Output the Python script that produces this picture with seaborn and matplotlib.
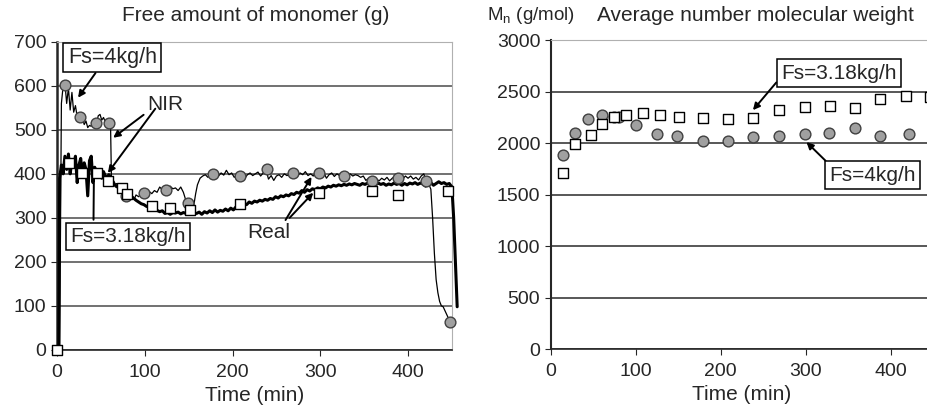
import numpy as np
import seaborn as sns
from matplotlib import pyplot as plt

# ---- data ----
# left panel: NIR signal, Fs = 4 kg/h (thin line)
nir4_t = [0, 3, 5, 7, 9, 11, 13, 15, 17, 19, 21, 23, 25, 27, 29, 31, 33, 35, 37, 39,
          41, 43, 45, 47, 49, 51, 53, 55, 57, 59, 61, 62, 64, 66, 68, 70, 72, 74, 76, 78,
          80, 83, 86, 88, 90, 93, 96, 99, 102, 105, 108, 111, 114, 117, 120, 123, 126, 129, 132, 135,
          138, 141, 144, 146, 148, 150, 152, 154, 156, 158, 160, 163, 166, 169, 172, 175, 178, 181, 184, 187,
          190, 193, 196, 199, 202, 205, 208, 211, 214, 217, 220, 223, 226, 229, 232, 235, 238, 241, 244, 247,
          250, 253, 256, 259, 262, 265, 268, 271, 274, 277, 280, 283, 286, 289, 292, 295, 298, 301, 304, 307,
          310, 313, 316, 319, 322, 325, 328, 331, 334, 337, 340, 343, 346, 349, 352, 355, 358, 361, 364, 367,
          370, 373, 376, 379, 382, 385, 388, 391, 394, 397, 400, 403, 406, 409, 412, 415, 418, 420, 422, 424,
          426, 428, 430, 432, 434, 436, 438, 440, 443, 446, 448]
nir4_v = [0, 5, 560, 600, 607, 560, 595, 545, 585, 540, 555, 530, 530, 520, 525, 512, 520, 505, 510, 508,
          520, 525, 515, 532, 535, 522, 528, 518, 520, 515, 512, 390, 385, 375, 378, 370, 372, 362, 358, 352,
          350, 345, 348, 342, 352, 348, 355, 358, 352, 360, 355, 362, 358, 370, 364, 366, 360, 372, 366, 368,
          362, 370, 358, 345, 330, 322, 320, 318, 330, 355, 375, 390, 395, 398, 392, 400, 398, 405, 395, 402,
          397, 408, 398, 402, 392, 398, 395, 400, 390, 398, 402, 396, 400, 404, 395, 402, 410, 388, 396, 385,
          395, 398, 392, 400, 396, 398, 403, 400, 395, 402, 398, 405, 396, 400, 395, 402, 400, 396, 403, 390,
          398, 402, 394, 400, 396, 392, 398, 396, 400, 395, 398, 396, 392, 395, 385, 390, 386, 382, 388, 384,
          390, 386, 392, 384, 390, 395, 387, 392, 388, 395, 390, 395, 388, 392, 386, 395, 400, 385, 380, 375,
          365, 300, 220, 160, 130, 110, 100, 98, 85, 72, 64]

# left panel: NIR signal, Fs = 3.18 kg/h (thick line)
nir318_t = [0, 2, 3, 5, 7, 9, 11, 13, 15, 17, 19, 21, 23, 25, 27, 29, 31, 33, 35, 37,
            39, 41, 43, 45, 47, 49, 51, 53, 55, 57, 59, 61, 63, 65, 67, 69, 71, 73, 75, 78,
            81, 84, 87, 90, 93, 96, 99, 102, 105, 108, 111, 114, 117, 120, 123, 126, 129, 132, 135, 138,
            141, 144, 147, 150, 153, 156, 159, 162, 165, 168, 171, 174, 177, 180, 183, 186, 189, 192, 195, 198,
            201, 204, 207, 210, 213, 216, 219, 222, 225, 228, 231, 234, 237, 240, 243, 246, 249, 252, 255, 258,
            261, 264, 267, 270, 273, 276, 279, 282, 285, 288, 291, 294, 297, 300, 303, 306, 309, 312, 315, 318,
            321, 324, 327, 330, 333, 336, 339, 342, 345, 348, 351, 354, 357, 360, 363, 366, 369, 372, 375, 378,
            381, 384, 387, 390, 393, 396, 399, 402, 405, 408, 411, 414, 417, 420, 423, 426, 429, 432, 435, 438,
            441, 444, 447, 450, 452, 454, 456]
nir318_v = [0, 5, 390, 420, 400, 440, 410, 445, 400, 430, 415, 440, 380, 420, 435, 395, 425, 410, 350, 430,
            440, 380, 415, 395, 400, 410, 390, 405, 395, 390, 398, 392, 385, 378, 372, 370, 366, 368, 362, 358,
            352, 350, 345, 340, 336, 332, 330, 326, 325, 320, 318, 317, 314, 316, 310, 312, 308, 312, 311, 313,
            309, 312, 310, 312, 308, 311, 310, 313, 308, 314, 311, 316, 312, 318, 313, 317, 315, 320, 316, 322,
            318, 325, 328, 325, 332, 330, 336, 333, 338, 336, 340, 338, 342, 340, 344, 342, 348, 345, 350, 348,
            352, 350, 355, 353, 358, 356, 362, 358, 364, 361, 366, 364, 368, 366, 370, 368, 372, 370, 374, 372,
            375, 373, 376, 374, 377, 375, 378, 376, 374, 378, 376, 379, 374, 377, 375, 379, 376, 378, 374, 377,
            375, 379, 376, 378, 374, 378, 375, 379, 377, 380, 376, 379, 377, 372, 378, 380, 374, 378, 382, 378,
            380, 376, 378, 370, 300, 200, 98]

# left panel: real (offline) samples
real4_t = [9, 26, 44, 59, 79, 99, 124, 149, 178, 209, 239, 269, 299, 327, 359, 388, 421, 448]
real4_v = [602, 529, 516, 516, 350, 357, 364, 334, 400, 395, 411, 402, 402, 395, 384, 391, 384, 64]
real318_t = [0, 14, 28, 45, 58, 74, 80, 108, 129, 151, 209, 299, 359, 388, 446]
real318_v = [0, 424, 402, 402, 384, 367, 354, 328, 322, 318, 332, 356, 362, 352, 360]

# right panel: Mn (g/mol)
mn4_t = [14, 29, 44, 60, 74, 81, 100, 125, 149, 179, 209, 238, 269, 299, 328, 358, 388, 422, 450]
mn4_v = [1885, 2100, 2230, 2270, 2250, 2250, 2180, 2085, 2070, 2020, 2020, 2055, 2070, 2085, 2100, 2145, 2070, 2085, 2080]
mn318_t = [14, 29, 47, 60, 74, 89, 109, 129, 151, 179, 209, 238, 269, 299, 329, 358, 388, 418, 446]
mn318_v = [1710, 1990, 2083, 2190, 2250, 2270, 2290, 2270, 2255, 2240, 2230, 2245, 2320, 2350, 2365, 2345, 2425, 2455, 2450]

xticks = [0, 100, 200, 300, 400]

sns.set_style("ticks")
plt.rcParams['font.family'] = ['Liberation Sans', 'DejaVu Sans']
plt.rcParams['mathtext.fontset'] = 'custom'
plt.rcParams['mathtext.rm'] = 'Liberation Sans'

fig = plt.figure(figsize=(9.27, 4.18), dpi=100)
ax1 = fig.add_axes([0.0615, 0.163, 0.426, 0.737])
ax2 = fig.add_axes([0.594, 0.165, 0.4126, 0.739])

circ = dict(marker='o', s=60, color='#a0a0a0', edgecolor='#404040', linewidth=1, zorder=5)
sq = dict(marker='s', s=55, color='white', edgecolor='black', linewidth=1, zorder=5)

# ---- left panel ----
sns.lineplot(x=nir4_t, y=nir4_v, ax=ax1, color='black', lw=0.9, zorder=3)
sns.lineplot(x=nir318_t, y=nir318_v, ax=ax1, color='black', lw=2.2, zorder=3)
for ln in ax1.lines:
    ln.set_clip_on(False)
sns.scatterplot(x=real4_t, y=real4_v, ax=ax1, clip_on=False, **circ)
sns.scatterplot(x=real318_t, y=real318_v, ax=ax1, clip_on=False, **sq)

ax1.set_xlim(0, 450)
ax1.set_ylim(0, 700)
ax1.set_xticks(xticks)
ax1.set_yticks(range(0, 701, 100))
ax1.grid(axis='y', color='#4a4a4a', lw=1.1)
ax1.set_axisbelow(True)
for s in ['top', 'right']:
    ax1.spines[s].set_color('#b0b0b0')
ax1.spines['left'].set_linewidth(1.8)
ax1.spines['bottom'].set_linewidth(1.2)
ax1.set_xlabel('Time (min)', fontsize=15, labelpad=4)
ax1.set_ylabel('')
ax1.tick_params(labelsize=14, length=4)
ax1.tick_params(axis='x', pad=6)
fig.text(0.276, 0.962, 'Free amount of monomer (g)', ha='center', va='center', fontsize=15)

box = dict(boxstyle='square,pad=0.2', fc='white', ec='black', lw=1.1)
arr = dict(arrowstyle='-|>', color='black', lw=1.4, mutation_scale=10, shrinkA=0, shrinkB=0)
ax1.annotate('Fs=4kg/h', xy=(24, 573), xytext=(63, 664), ha='center', va='center',
             fontsize=15.5, bbox=box, arrowprops=dict(arr, relpos=(0.35, 0.0)))
ax1.annotate('NIR', xy=(64, 482), xytext=(123, 557), ha='center', va='center',
             fontsize=15, arrowprops=dict(arr, relpos=(0.0, 0.1)))
ax1.annotate('', xy=(58, 402), xytext=(112, 548), arrowprops=arr)
ax1.annotate('Fs=3.18kg/h', xy=(42, 385), xytext=(81, 257), ha='center', va='center',
             fontsize=15, bbox=box,
             arrowprops=dict(arrowstyle='-', color='black', lw=1.4, relpos=(0.2, 1.0)))
ax1.annotate('Real', xy=(290, 393), xytext=(241, 266), ha='center', va='center',
             fontsize=15, arrowprops=dict(arr, relpos=(0.85, 1.0)))
ax1.annotate('', xy=(292, 357), xytext=(265, 300), arrowprops=arr)

# ---- right panel ----
sns.scatterplot(x=mn4_t, y=mn4_v, ax=ax2, **circ)
sns.scatterplot(x=mn318_t, y=mn318_v, ax=ax2, **sq)
ax2.set_xlim(0, 450)
ax2.set_ylim(0, 3000)
ax2.set_xticks(xticks)
ax2.set_yticks(range(0, 3001, 500))
ax2.grid(axis='y', color='#2a2a2a', lw=1.1)
ax2.set_axisbelow(True)
ax2.spines['top'].set_color('#b0b0b0')
ax2.spines['right'].set_visible(False)
ax2.spines['left'].set_linewidth(1.5)
ax2.spines['bottom'].set_linewidth(1.2)
ax2.set_xlabel('Time (min)', fontsize=15, labelpad=4)
ax2.set_ylabel('')
ax2.tick_params(labelsize=14, length=4)
ax2.tick_params(axis='x', pad=6)
fig.text(0.573, 0.962, r'M$_\mathrm{n}$ (g/mol)', ha='center', va='center', fontsize=13.5)
fig.text(0.815, 0.962, 'Average number molecular weight', ha='center', va='center', fontsize=15)

ax2.annotate('Fs=3.18kg/h', xy=(238, 2320), xytext=(339, 2680), ha='center', va='center',
             fontsize=15, bbox=box, arrowprops=dict(arr, relpos=(0.0, 0.3)))
ax2.annotate('Fs=4kg/h', xy=(301, 2010), xytext=(379, 1690), ha='center', va='center',
             fontsize=15, bbox=box, arrowprops=dict(arr, relpos=(0.1, 0.6)))

plt.savefig('out.png', dpi=100)
